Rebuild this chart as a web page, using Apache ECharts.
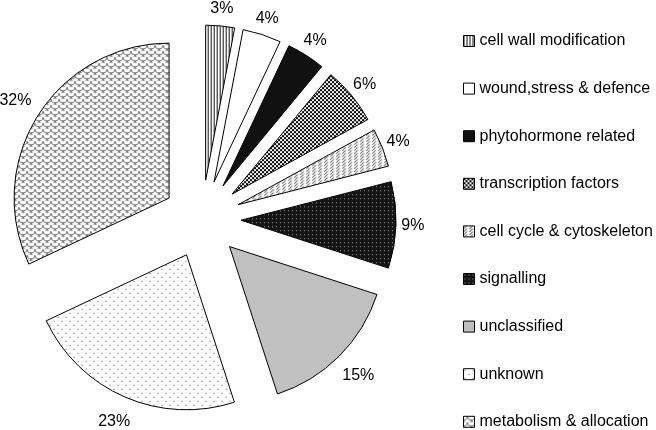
<!DOCTYPE html>
<html>
<head>
<meta charset="utf-8">
<script src="https://cdn.jsdelivr.net/npm/echarts@6/dist/echarts.min.js"></script>
<style>
html,body{margin:0;padding:0;background:#fff;}
#chart{width:656px;height:430px;}
</style>
</head>
<body>
<div id="chart"></div>
<script>
var categories = ['cell wall modification', 'wound,stress & defence', 'phytohormone related', 'transcription factors', 'cell cycle & cytoskeleton', 'signalling', 'unclassified', 'unknown', 'metabolism & allocation'];
var values = [3, 4, 4, 6, 4, 9, 15, 23, 32];

function tile(w, h, draw) {
  var c = document.createElement('canvas');
  c.width = w; c.height = h;
  var ctx = c.getContext('2d');
  draw(ctx, w, h);
  return { image: c, repeat: 'repeat' };
}

var fills = [
  tile(3, 4, function (ctx, w, h) { ctx.fillStyle = '#fff'; ctx.fillRect(0, 0, w, h); ctx.fillStyle = '#111'; ctx.fillRect(0, 0, 1, h); }),
  '#ffffff',
  '#111111',
  tile(4, 4, function (ctx, w, h) { ctx.fillStyle = '#fff'; ctx.fillRect(0, 0, w, h); ctx.fillStyle = '#000'; ctx.fillRect(0, 0, 2, 2); ctx.fillRect(2, 2, 2, 2); }),
  tile(6, 3, function (ctx, w, h) {
    ctx.fillStyle = '#fff'; ctx.fillRect(0, 0, w, h);
    ctx.fillStyle = '#333';
    ctx.fillRect(0, 2, 1, 1); ctx.fillRect(1, 1, 1, 1); ctx.fillRect(2, 0, 1, 1);
    ctx.fillStyle = '#999';
    ctx.fillRect(3, 2, 1, 1);
  }),
  tile(4, 4, function (ctx, w, h) { ctx.fillStyle = '#151515'; ctx.fillRect(0, 0, w, h); ctx.fillStyle = '#9a9a9a'; ctx.fillRect(1, 1, 1, 1); }),
  '#c0c0c0',
  tile(8, 8, function (ctx, w, h) { ctx.fillStyle = '#fff'; ctx.fillRect(0, 0, w, h); ctx.fillStyle = '#555'; ctx.fillRect(1, 1, 1, 1); ctx.fillRect(5, 5, 1, 1); }),
  tile(8, 6, function (ctx, w, h) {
    ctx.fillStyle = '#fff'; ctx.fillRect(0, 0, w, h);
    ctx.strokeStyle = '#7a7a7a'; ctx.lineWidth = 1;
    ctx.beginPath(); ctx.arc(0, 0, 4, 0, Math.PI * 0.6); ctx.stroke();
    ctx.beginPath(); ctx.arc(8, 0, 4, 0, Math.PI); ctx.stroke();
    ctx.beginPath(); ctx.arc(4, 3, 4, 0, Math.PI); ctx.stroke();
    ctx.beginPath(); ctx.arc(0, 6, 4, 0, Math.PI); ctx.stroke();
    ctx.beginPath(); ctx.arc(8, 6, 4, 0, Math.PI); ctx.stroke();
  })
];

var center = [202, 219];
var offset = 39;
var font = 'Liberation Sans, Arial, sans-serif';

var pieData = categories.map(function (name, i) {
  return { name: name, value: values[i], selected: true, itemStyle: { color: fills[i] } };
});
// label ring: short (one-digit) labels sit closer to the arc than wider two-digit ones
function labelData(wide) {
  return categories.map(function (name, i) {
    var isWide = String(values[i]).length > 1;
    return { name: name, value: values[i], selected: true, label: { show: isWide === wide } };
  });
}

function labelSeries(r0, r1, wide) {
  return {
    type: 'pie',
    center: center,
    radius: [r0, r1],
    startAngle: 90,
    clockwise: true,
    selectedMode: 'multiple',
    selectedOffset: offset,
    avoidLabelOverlap: false,
    silent: true,
    emphasis: { disabled: true },
    itemStyle: { color: 'rgba(0,0,0,0)', borderWidth: 0 },
    select: { itemStyle: { color: 'rgba(0,0,0,0)', borderWidth: 0 } },
    label: {
      position: 'inside',
      formatter: '{c}%',
      fontFamily: font,
      fontSize: 16,
      color: '#000'
    },
    labelLine: { show: false },
    data: labelData(wide)
  };
}

var chart = echarts.init(document.getElementById('chart'), null, { renderer: 'canvas' });
chart.setOption({
  animation: false,
  backgroundColor: '#fff',
  legend: {
    orient: 'vertical',
    left: 463,
    top: 33,
    height: 420,
    padding: 0,
    itemWidth: 11,
    itemHeight: 11,
    itemGap: 31.6,
    selectedMode: false,
    icon: 'rect',
    itemStyle: { borderColor: '#000', borderWidth: 1 },
    textStyle: { fontFamily: font, fontSize: 16, color: '#000' },
    data: categories
  },
  series: [{
    type: 'pie',
    center: center,
    radius: [0, 155],
    startAngle: 90,
    clockwise: true,
    selectedMode: 'multiple',
    selectedOffset: offset,
    avoidLabelOverlap: false,
    silent: true,
    emphasis: { disabled: true },
    itemStyle: { borderColor: '#000', borderWidth: 1 },
    select: { itemStyle: { borderColor: '#000', borderWidth: 1 } },
    label: { show: false },
    labelLine: { show: false },
    data: pieData
  },
  labelSeries(163, 175, false),
  labelSeries(173, 185, true)
  ]
});
</script>
</body>
</html>
